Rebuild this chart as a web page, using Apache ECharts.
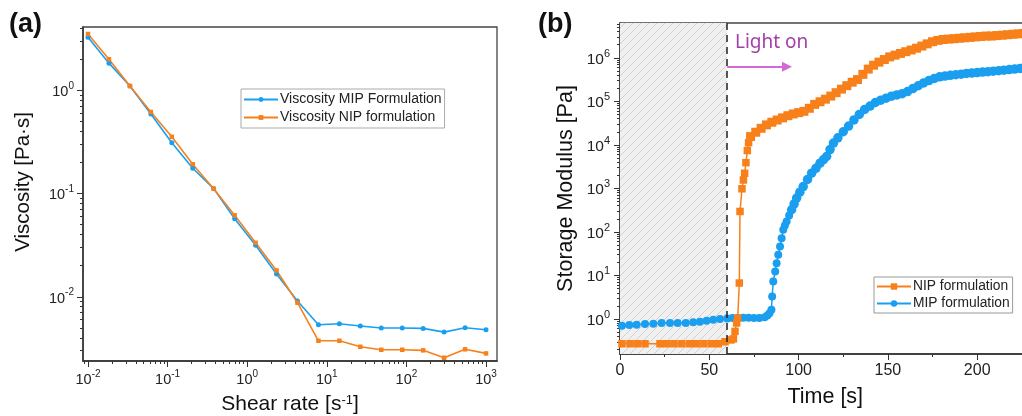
<!DOCTYPE html>
<html>
<head>
<meta charset="utf-8">
<script src="https://cdn.jsdelivr.net/npm/echarts@6/dist/echarts.min.js"></script>
<style>
html, body { margin: 0; padding: 0; background: #fff; }
#chart { width: 1022px; height: 416px; }
</style>
</head>
<body>
<div id="chart"></div>
<script>
// (a) viscosity vs shear rate
const shearRate = [0.01, 0.01833, 0.0336, 0.06159, 0.1129, 0.2069, 0.3793, 0.6952, 1.274, 2.336,
  4.281, 7.848, 14.38, 26.37, 48.33, 88.59, 162.4, 297.6, 545.6, 1000];
const viscMIP = [3.30, 1.85, 1.11, 0.594, 0.313, 0.1765, 0.112, 0.0572, 0.0316, 0.0166,
  0.00908, 0.00535, 0.00547, 0.00520, 0.00497, 0.00497, 0.00493, 0.00454, 0.00500, 0.00478];
const viscNIP = [3.55, 2.02, 1.11, 0.621, 0.357, 0.193, 0.112, 0.0617, 0.0334, 0.0180,
  0.00875, 0.00374, 0.00374, 0.00327, 0.00306, 0.00306, 0.00302, 0.00256, 0.00309, 0.00282];
const shearTicks = [0.01, 0.1, 1, 10, 100, 1000];
const viscTicks = [0.01, 0.1, 1];

// (b) storage modulus during curing
const timeNIP = [1.1, 5.6, 9.7, 14, 22.4, 26.1, 30.2, 34.5, 38.8, 42.9, 47, 51.3, 55, 58.8,
  62.1, 63.5, 64.4, 65.3, 65.9, 66.8, 67.2, 68.3, 69.1, 69.8, 70.5, 71.3, 72, 73.1,
  76, 79, 82, 85, 88, 91, 94, 97, 100, 103, 106, 109, 112, 115, 118, 121, 124, 127, 130, 133,
  136, 139, 142, 145, 148, 151, 154, 157, 160, 163, 166, 169, 172, 175, 178, 181, 184, 187,
  190, 193, 196, 199, 202, 205, 208, 211, 214, 217, 220, 223, 226];
const modNIP = [0.27, 0.27, 0.27, 0.27, 0.27, 0.27, 0.27, 0.27, 0.27, 0.27, 0.27, 0.27, 0.27, 0.30,
  0.33, 0.35, 0.52, 0.81, 1.05, 6.7, 295, 980, 1560, 2230, 3900, 7400, 11200, 15500,
  19500, 24000, 28800, 33100, 37200, 41700, 46800, 51300, 55000, 58900, 69200, 85100, 97700,
  112000, 132000, 158000, 191000, 229000, 275000, 316000, 417000, 550000, 676000, 794000, 912000,
  1.05e6, 1.15e6, 1.26e6, 1.38e6, 1.51e6, 1.66e6, 1.86e6, 2.09e6, 2.34e6, 2.51e6, 2.63e6, 2.69e6,
  2.75e6, 2.82e6, 2.88e6, 2.95e6, 3.02e6, 3.09e6, 3.16e6, 3.16e6, 3.24e6, 3.31e6, 3.39e6, 3.47e6,
  3.55e6, 3.63e6];
const timeMIP = [1.1, 5.2, 9.3, 14, 18.7, 23.3, 28, 32.3, 36.8, 41, 44.8, 48.5, 52.2, 56, 60.1,
  63, 66, 69, 72, 75, 78, 81,
  82.5, 83.7, 84.8, 85.2, 85.8, 86.9, 87.7, 88.6, 89.6, 90.5, 91.4, 92.3, 93.3, 94.7, 96.1, 97.5,
  98.9, 100.7, 102.6, 105, 107.3, 109.7, 112, 114, 115.7, 117.6, 119.5, 122,
  125, 128, 131, 134, 137, 140, 143, 146, 149, 152, 155, 158, 161, 164, 167, 170, 173, 176, 179,
  182, 185, 188, 191, 194, 197, 200, 203, 206, 209, 212, 215, 218, 221, 224, 226];
const modMIP = [0.70, 0.73, 0.74, 0.77, 0.78, 0.81, 0.81, 0.81, 0.81, 0.84, 0.87, 0.91, 0.96, 1.0, 1.03,
  1.05, 1.06, 1.07, 1.07, 1.05, 1.05, 1.1,
  1.2, 1.35, 1.63, 3.3, 7.3, 12.4, 19, 30, 46, 72, 112, 140, 174, 240, 323, 440,
  600, 820, 1100, 1600, 2230, 2900, 3800, 4600, 5400, 7800, 11000, 14500,
  20000, 27000, 37300, 50000, 65000, 78000, 94000, 106000, 118000, 131000, 140000, 150000, 168000,
  196000, 228000, 265000, 300000, 335000, 365000, 380000, 395000, 408000, 420000, 437000, 447000,
  458000, 470000, 480000, 493000, 505000, 520000, 535000, 550000, 570000, 580000];
const modTicks = [1, 10, 100, 1e3, 1e4, 1e5, 1e6];
const lightOnTime = 60;

const BLUE = '#1a9ff0';
const ORANGE = '#f8801a';
const FONT = 'Liberation Sans';

// 2..9 times each decade, kept inside [lo, hi]
function minorTicks(lo, hi) {
  let out = [];
  for (let d = Math.pow(10, Math.floor(Math.log10(lo))); d < hi; d *= 10) {
    for (let k = 2; k <= 9; k++) {
      let v = +(k * d).toPrecision(3);
      if (v > lo && v < hi) out.push(v);
    }
  }
  return out;
}

const supRich = (size) => ({
  b: { fontSize: size, fontFamily: FONT, color: '#222', lineHeight: size + 4, verticalAlign: 'bottom' },
  s: { fontSize: Math.round(size * 0.7), fontFamily: FONT, color: '#222', lineHeight: size, verticalAlign: 'top' }
});
const pow10 = v => '{b|10}{s|' + Math.round(Math.log10(v)) + '}';

// hatch for the dark period
const hatch = document.createElement('canvas');
hatch.width = 8; hatch.height = 8;
let hc = hatch.getContext('2d');
hc.fillStyle = '#f0f0f0';
hc.fillRect(0, 0, 8, 8);
hc.strokeStyle = '#c9c9c9';
hc.lineWidth = 0.8;
hc.beginPath();
hc.moveTo(-1, 9); hc.lineTo(9, -1);
hc.moveTo(-5, 5); hc.lineTo(5, -5);
hc.moveTo(3, 13); hc.lineTo(13, 3);
hc.stroke();

const aX = { min: 0.00865, max: 1374 };
const aY = { min: 0.00238, max: 4.15 };
const bY = { min: 0.157, max: 6.3e6 };

const axisLineStyle = { color: '#333', width: 1.5 };

let chart = echarts.init(document.getElementById('chart'));
chart.setOption({
  animation: false,
  graphic: [
    { type: 'text', left: 9, top: 11, style: { text: '(a)', font: 'bold 27px ' + FONT, fill: '#111' } },
    { type: 'text', left: 538, top: 11, style: { text: '(b)', font: 'bold 27px ' + FONT, fill: '#111' } },
    { type: 'text', left: 735, top: 33, style: { text: 'Light on', font: '19px "Noto Sans"', fill: '#a43fa8' } }
  ],
  legend: [
    {
      left: 241, top: 89, orient: 'vertical',
      data: ['Viscosity MIP Formulation', 'Viscosity NIP formulation'],
      borderColor: '#aaa', borderWidth: 1, padding: [2, 3, 2, 2], itemGap: 1,
      itemWidth: 34, itemHeight: 6,
      textStyle: { fontSize: 14, fontFamily: FONT, color: '#222', lineHeight: 17, padding: [0, 0, 0, -3] }
    },
    {
      left: 874, top: 277, orient: 'vertical',
      data: ['NIP formulation', 'MIP formulation'],
      borderColor: '#999', borderWidth: 1, padding: [1, 3, 1, 2], itemGap: 0,
      itemWidth: 34, itemHeight: 8,
      textStyle: { fontSize: 13.8, fontFamily: FONT, color: '#222', lineHeight: 17, padding: [0, 0, 0, -3] }
    }
  ],
  grid: [
    { left: 83, top: 27, width: 414, height: 334, show: true, borderColor: '#444', borderWidth: 1.3,
      outerBoundsMode: 'none' },
    { left: 620, top: 23, width: 446.5, height: 331, show: true, borderColor: '#444', borderWidth: 1.3,
      outerBoundsMode: 'none' }
  ],
  xAxis: [
    {
      gridIndex: 0, type: 'log', position: 'bottom', min: aX.min, max: aX.max,
      name: 'Shear rate [s{s|-1}]', nameLocation: 'middle', nameGap: 33,
      nameTextStyle: { fontSize: 21, fontFamily: FONT, color: '#111',
        rich: { s: { fontSize: 13, fontFamily: FONT, color: '#111', verticalAlign: 'top', lineHeight: 14 } } },
      axisLine: { onZero: false, lineStyle: axisLineStyle },
      axisTick: { length: 6, customValues: shearTicks, lineStyle: { color: '#333' } },
      axisLabel: { customValues: shearTicks, formatter: pow10, margin: 8, rich: supRich(14.5) },
      splitLine: { show: false }
    },
    {
      gridIndex: 0, type: 'log', position: 'bottom', min: aX.min, max: aX.max,
      axisLine: { show: false },
      axisTick: { length: 3, customValues: minorTicks(aX.min, aX.max), lineStyle: { color: '#333' } },
      axisLabel: { show: false }, splitLine: { show: false }
    },
    {
      gridIndex: 1, type: 'value', position: 'bottom', min: 0, max: 250, interval: 50,
      name: 'Time [s]', nameLocation: 'middle', nameGap: 32,
      nameTextStyle: { fontSize: 21.5, fontFamily: FONT, color: '#111', padding: [0, 36, 0, 0] },
      axisLine: { onZero: false, lineStyle: axisLineStyle },
      axisTick: { length: 6, lineStyle: { color: '#333' } },
      minorTick: { show: true, splitNumber: 2, length: 3, lineStyle: { color: '#333' } },
      axisLabel: { fontSize: 16, fontFamily: FONT, color: '#222', margin: 9 },
      splitLine: { show: false }
    }
  ],
  yAxis: [
    {
      gridIndex: 0, type: 'log', position: 'left', min: aY.min, max: aY.max,
      name: 'Viscosity [Pa·s]', nameLocation: 'middle', nameGap: 49,
      nameTextStyle: { fontSize: 20.5, fontFamily: FONT, color: '#111', padding: [0, 0, 0, 24] },
      axisLine: { onZero: false, lineStyle: axisLineStyle },
      axisTick: { length: 6, customValues: viscTicks, lineStyle: { color: '#333' } },
      axisLabel: { customValues: viscTicks, formatter: pow10, margin: 9, rich: supRich(14.5) },
      splitLine: { show: false }
    },
    {
      gridIndex: 0, type: 'log', position: 'left', min: aY.min, max: aY.max,
      axisLine: { show: false },
      axisTick: { length: 3, customValues: minorTicks(aY.min, aY.max), lineStyle: { color: '#333' } },
      axisLabel: { show: false }, splitLine: { show: false }
    },
    {
      gridIndex: 1, type: 'log', position: 'left', min: bY.min, max: bY.max,
      name: 'Storage Modulus [Pa]', nameLocation: 'middle', nameGap: 43,
      nameTextStyle: { fontSize: 21.5, fontFamily: FONT, color: '#111' },
      axisLine: { onZero: false, lineStyle: axisLineStyle },
      axisTick: { length: 6, customValues: modTicks, lineStyle: { color: '#333' } },
      axisLabel: { customValues: modTicks, formatter: pow10, margin: 10, rich: supRich(15.5) },
      splitLine: { show: false }
    },
    {
      gridIndex: 1, type: 'log', position: 'left', min: bY.min, max: bY.max,
      axisLine: { show: false },
      axisTick: { length: 3, customValues: minorTicks(bY.min, bY.max), lineStyle: { color: '#333' } },
      axisLabel: { show: false }, splitLine: { show: false }
    }
  ],
  series: [
    {
      name: 'Viscosity MIP Formulation', type: 'line', xAxisIndex: 0, yAxisIndex: 0,
      data: shearRate.map((x, i) => [x, viscMIP[i]]),
      symbol: 'circle', symbolSize: 5, color: BLUE, lineStyle: { width: 1.6 }
    },
    {
      name: 'Viscosity NIP formulation', type: 'line', xAxisIndex: 0, yAxisIndex: 0,
      data: shearRate.map((x, i) => [x, viscNIP[i]]),
      symbol: 'rect', symbolSize: 4.5, color: ORANGE, lineStyle: { width: 1.6 }
    },
    {
      // dark period shading
      type: 'line', xAxisIndex: 2, yAxisIndex: 2, data: [], z: 1, silent: true,
      markArea: {
        silent: true,
        itemStyle: { color: { image: hatch, repeat: 'repeat' } },
        data: [[{ xAxis: 0 }, { xAxis: lightOnTime }]]
      }
    },
    {
      name: 'MIP formulation', type: 'line', xAxisIndex: 2, yAxisIndex: 2, z: 3,
      data: timeMIP.map((t, i) => [t, modMIP[i]]),
      symbol: 'circle', symbolSize: v => (v[0] > 95 ? 9.5 : 8), color: BLUE, lineStyle: { width: 1.5 }
    },
    {
      name: 'NIP formulation', type: 'line', xAxisIndex: 2, yAxisIndex: 2, z: 4,
      data: timeNIP.map((t, i) => [t, modNIP[i]]),
      symbol: 'rect', symbolSize: v => (v[0] > 73 ? 9 : 7.5), color: ORANGE, lineStyle: { width: 1.5 }
    },
    {
      // light-on time
      type: 'line', xAxisIndex: 2, yAxisIndex: 2, data: [], z: 5, silent: true,
      markLine: {
        silent: true, symbol: ['none', 'none'],
        label: { show: false },
        lineStyle: { color: '#222', width: 1.5, type: [7, 5] },
        data: [{ xAxis: lightOnTime }]
      }
    },
    {
      // arrow after light on
      type: 'line', xAxisIndex: 2, yAxisIndex: 2, data: [], z: 5, silent: true,
      markLine: {
        silent: true, symbol: ['none', 'triangle'], symbolSize: 10,
        label: { show: false },
        lineStyle: { color: '#d468d4', width: 2.2, type: 'solid' },
        data: [[{ coord: [lightOnTime, 6.2e5] }, { coord: [93.5, 6.2e5] }]]
      }
    }
  ]
});
</script>
</body>
</html>
